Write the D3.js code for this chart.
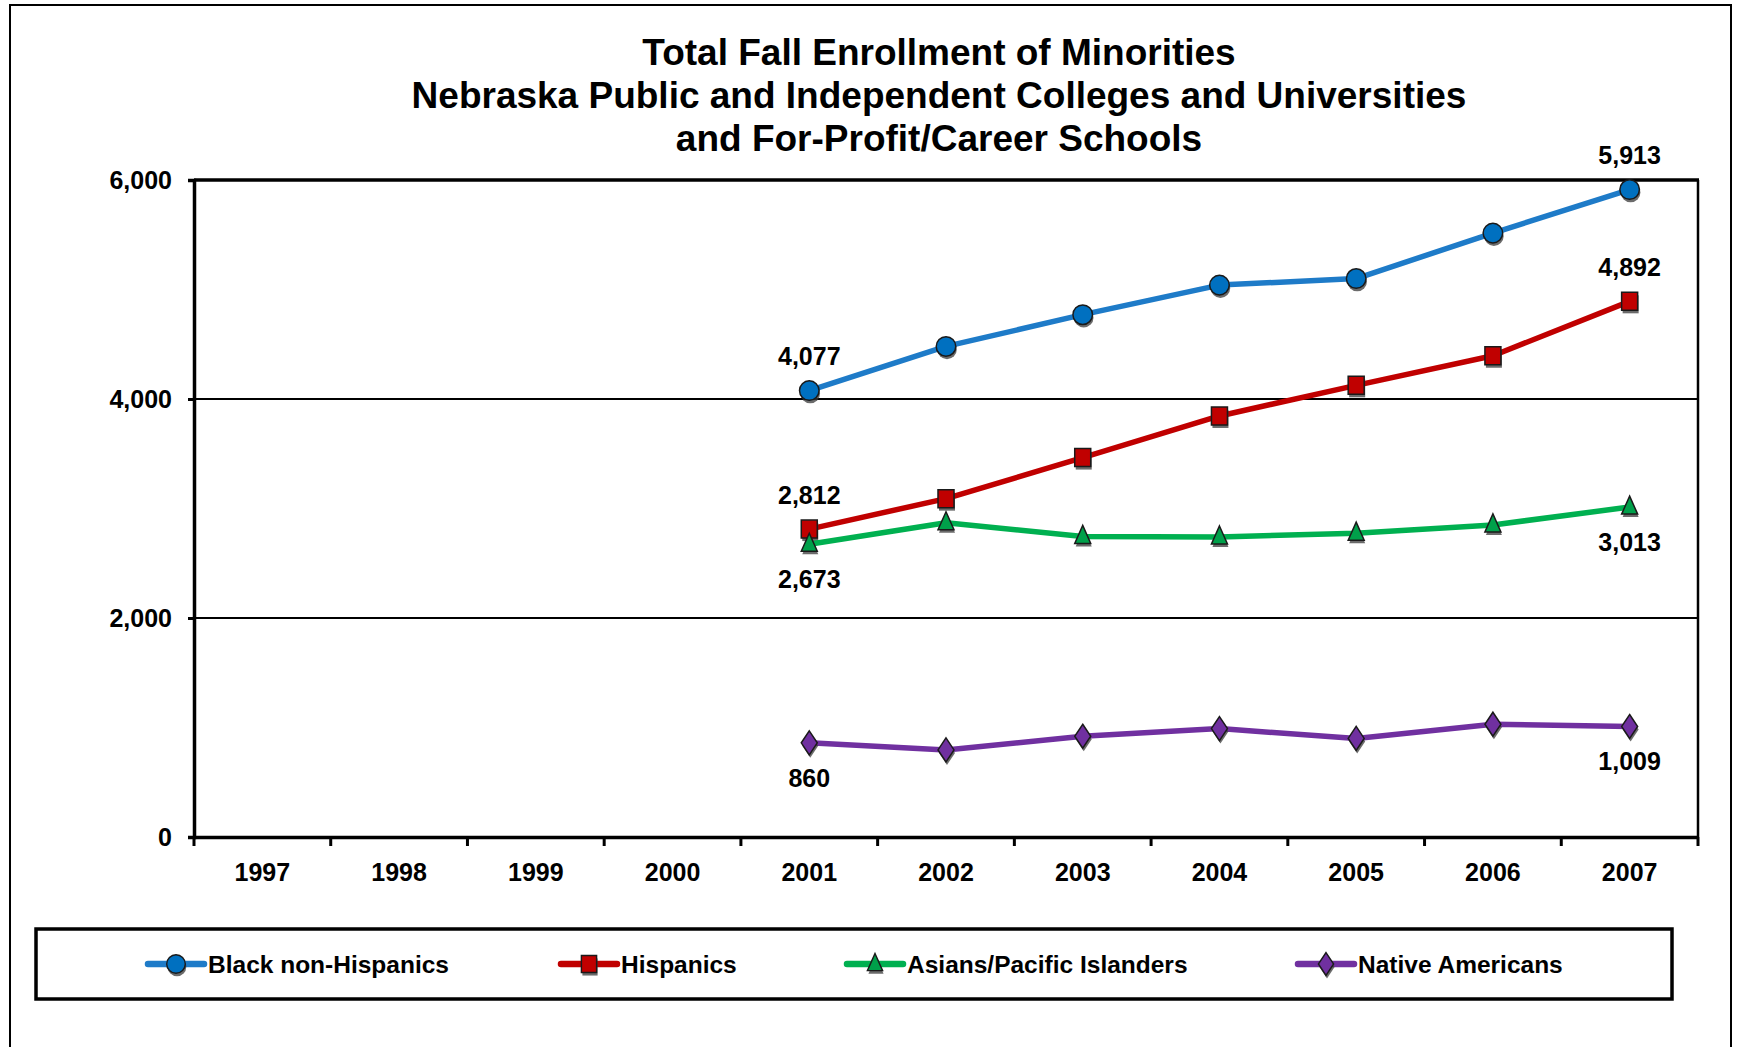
<!DOCTYPE html>
<html>
<head>
<meta charset="utf-8">
<script src="https://cdn.jsdelivr.net/npm/d3@7"></script>
<style>
  html, body { margin: 0; padding: 0; background: #fff; }
  svg { display: block; font-family: "Liberation Sans", Arial, sans-serif; }
</style>
</head>
<body>
<svg id="chart" width="1742" height="1047"></svg>
<script>
// ---- data ----
const years = ["1997","1998","1999","2000","2001","2002","2003","2004","2005","2006","2007"];
const dataYears = ["2001","2002","2003","2004","2005","2006","2007"];
const blackNonHispanics = [4077, 4480, 4770, 5040, 5100, 5515, 5913];
const hispanics = [2812, 3090, 3465, 3845, 4125, 4395, 4892];
const asiansPacificIslanders = [2673, 2870, 2745, 2740, 2775, 2850, 3013];
const nativeAmericans = [860, 795, 920, 990, 900, 1030, 1009];
const seriesNames = ["Black non-Hispanics", "Hispanics", "Asians/Pacific Islanders", "Native Americans"];
const yTicks = [0, 2000, 4000, 6000];
const titleLines = [
  "Total Fall Enrollment of Minorities",
  "Nebraska Public and Independent Colleges and Universities",
  "and For-Profit/Career Schools"
];

const series = [
  { name: seriesNames[0], values: blackNonHispanics, line: "#1E7BC8", fill: "#0070C0", shape: "circle", labelPos: "above" },
  { name: seriesNames[1], values: hispanics, line: "#C00000", fill: "#C00000", shape: "square", labelPos: "above" },
  { name: seriesNames[2], values: asiansPacificIslanders, line: "#00B050", fill: "#00A04A", shape: "triangle", labelPos: "below" },
  { name: seriesNames[3], values: nativeAmericans, line: "#7030A0", fill: "#7030A0", shape: "diamond", labelPos: "below" }
];

// ---- layout ----
const svg = d3.select("#chart");
const plot = { left: 194, right: 1698, top: 180, bottom: 837 };

const x = d3.scaleBand().domain(years).range([plot.left, plot.right]).padding(0);
const y = d3.scaleLinear().domain([0, 6000]).range([plot.bottom, plot.top]);
const cx = d => x(d) + x.bandwidth() / 2;

// outer frame
svg.append("rect").attr("x", 10).attr("y", 5).attr("width", 1721).attr("height", 1100)
  .attr("fill", "none").attr("stroke", "#000").attr("stroke-width", 2);

// title
const title = svg.append("text").attr("text-anchor", "middle")
  .attr("font-weight", "bold").attr("font-size", 37).attr("fill", "#000");
titleLines.forEach((t, i) => {
  title.append("tspan").attr("x", 939).attr("y", 65 + i * 43).text(t);
});

// gridlines
svg.append("g").selectAll("line").data(yTicks.filter(v => v > 0 && v < 6000)).join("line")
  .attr("x1", plot.left).attr("x2", plot.right)
  .attr("y1", d => y(d)).attr("y2", d => y(d))
  .attr("stroke", "#000").attr("stroke-width", 2);

// plot border top / right
svg.append("line").attr("x1", plot.left).attr("x2", plot.right + 1)
  .attr("y1", y(6000)).attr("y2", y(6000)).attr("stroke", "#000").attr("stroke-width", 3.5);
svg.append("line").attr("x1", plot.right).attr("x2", plot.right)
  .attr("y1", y(6000)).attr("y2", y(0)).attr("stroke", "#000").attr("stroke-width", 2.5);

// y axis
const yAxis = svg.append("g").attr("transform", `translate(${plot.left},0)`)
  .call(d3.axisLeft(y).tickValues(yTicks).tickFormat(d3.format(",")).tickSize(6).tickPadding(16));
yAxis.select(".domain").attr("stroke-width", 3.5);
yAxis.selectAll(".tick line").attr("stroke-width", 3);
yAxis.selectAll(".tick text").attr("font-size", 25).attr("font-weight", "bold")
  .attr("font-family", "Liberation Sans, Arial, sans-serif").attr("fill", "#000");

// x axis (labels centered in bands, ticks at band boundaries)
const xAxis = svg.append("g").attr("transform", `translate(0,${plot.bottom})`)
  .call(d3.axisBottom(x).tickSize(0).tickPadding(26).tickSizeOuter(0));
xAxis.select(".domain").attr("stroke-width", 3.5);
xAxis.selectAll(".tick text").attr("font-size", 25).attr("font-weight", "bold")
  .attr("font-family", "Liberation Sans, Arial, sans-serif").attr("fill", "#000");
const boundaries = years.map(d => x(d)).concat([plot.right]);
svg.append("g").selectAll("line").data(boundaries).join("line")
  .attr("x1", d => d).attr("x2", d => d)
  .attr("y1", plot.bottom).attr("y2", plot.bottom + 9)
  .attr("stroke", "#000").attr("stroke-width", 3);

// marker symbol path
function markerPath(shape) {
  switch (shape) {
    case "circle": return d3.symbol(d3.symbolCircle, 300)();
    case "square": return "M-8,-9 H8 V9 H-8 Z";
    case "triangle": return "M0,-11 L8,7 L-8,7 Z";
    case "diamond": return "M0,-12 L8,0 L0,12 L-8,0 Z";
  }
}
function drawMarker(g, shape, fill, px, py, scale) {
  const s = scale || 1;
  g.append("path").attr("d", markerPath(shape))
    .attr("transform", `translate(${px + 1},${py + 3}) scale(${s})`)
    .attr("fill", "#3a3a3a").attr("opacity", 0.75);
  g.append("path").attr("d", markerPath(shape))
    .attr("transform", `translate(${px},${py}) scale(${s})`)
    .attr("fill", fill).attr("stroke", "#1a1a1a").attr("stroke-width", 1.5);
}

// series lines & markers
const line = d3.line().x((d, i) => cx(dataYears[i])).y(d => y(d));
series.forEach(s => {
  const g = svg.append("g");
  g.append("path").datum(s.values).attr("d", line)
    .attr("fill", "none").attr("stroke", s.line).attr("stroke-width", 5.5)
    .attr("stroke-linejoin", "round");
  s.values.forEach((v, i) => drawMarker(g, s.shape, s.fill, cx(dataYears[i]), y(v)));
  // labels for first and last values
  [0, s.values.length - 1].forEach(i => {
    const v = s.values[i];
    const off = s.labelPos === "above" ? -34 : 35;
    g.append("text").attr("x", cx(dataYears[i])).attr("y", y(v) + off)
      .attr("dy", "0.35em").attr("text-anchor", "middle")
      .attr("font-size", 25).attr("font-weight", "bold").attr("fill", "#000")
      .text(d3.format(",")(v));
  });
});

// legend
const legend = svg.append("g");
legend.append("rect").attr("x", 36).attr("y", 929).attr("width", 1636).attr("height", 70)
  .attr("fill", "#fff").attr("stroke", "#000").attr("stroke-width", 3.5);
const legendX = [148, 561, 847, 1298];
const legendY = 964;
series.forEach((s, i) => {
  const lx = legendX[i];
  legend.append("line").attr("x1", lx).attr("x2", lx + 56).attr("y1", legendY).attr("y2", legendY)
    .attr("stroke", s.line).attr("stroke-width", 6.5).attr("stroke-linecap", "round");
  drawMarker(legend, s.shape, s.fill, lx + 28, legendY, 0.95);
  legend.append("text").attr("x", lx + 60).attr("y", legendY).attr("dy", "0.35em")
    .attr("font-size", 24.5).attr("font-weight", "bold").attr("fill", "#000").text(s.name);
});
</script>
</body>
</html>
